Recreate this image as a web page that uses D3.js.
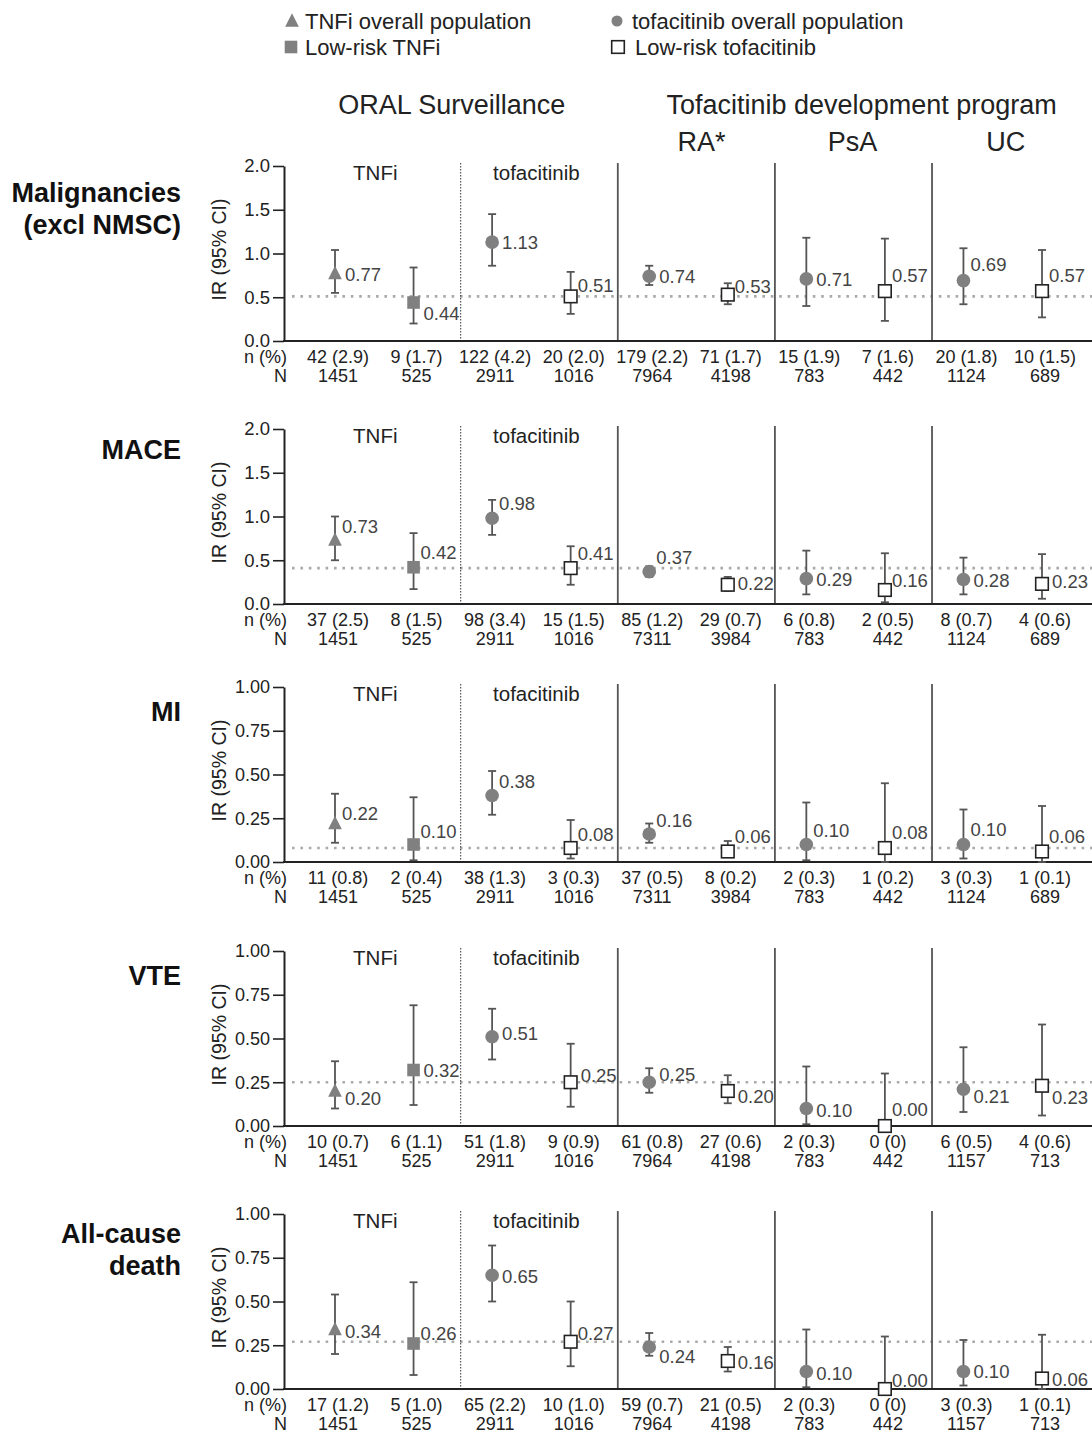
<!DOCTYPE html>
<html><head><meta charset="utf-8">
<script src="https://cdn.jsdelivr.net/npm/d3@7"></script>
<style>
body{margin:0;background:#fff}
svg{display:block}
text{font-family:"Liberation Sans",Arial,sans-serif}
</style>
</head><body>
<svg id="chart" width="1092" height="1434"></svg>
<script>
// ---------------- DATA ----------------
const groups = ["TNFi overall", "Low-risk TNFi", "Tofacitinib overall", "Low-risk tofacitinib",
  "RA overall", "RA low-risk", "PsA overall", "PsA low-risk", "UC overall", "UC low-risk"];
const markerTypes = ["triangle", "square", "circle", "openSquare", "circle", "openSquare",
  "circle", "openSquare", "circle", "openSquare"];
const outcomeTitles = [["Malignancies", "(excl NMSC)"], ["MACE"], ["MI"], ["VTE"], ["All-cause", "death"]];
const yMaxes = [2, 2, 1, 1, 1];
const ticksWide = [0, 0.5, 1, 1.5, 2];
const ticksWideLabels = ["0.0", "0.5", "1.0", "1.5", "2.0"];
const ticksNarrow = [0, 0.25, 0.5, 0.75, 1];
const ticksNarrowLabels = ["0.00", "0.25", "0.50", "0.75", "1.00"];

const malignIR = [0.77, 0.44, 1.13, 0.51, 0.74, 0.53, 0.71, 0.57, 0.69, 0.57];
const malignLo = [0.55, 0.20, 0.86, 0.31, 0.64, 0.42, 0.40, 0.23, 0.42, 0.27];
const malignHi = [1.04, 0.84, 1.45, 0.79, 0.86, 0.66, 1.18, 1.17, 1.06, 1.04];
const malignN = ["42 (2.9)", "9 (1.7)", "122 (4.2)", "20 (2.0)", "179 (2.2)", "71 (1.7)", "15 (1.9)", "7 (1.6)", "20 (1.8)", "10 (1.5)"];
const malignTotal = [1451, 525, 2911, 1016, 7964, 4198, 783, 442, 1124, 689];

const maceIR = [0.73, 0.42, 0.98, 0.41, 0.37, 0.22, 0.29, 0.16, 0.28, 0.23];
const maceLo = [0.50, 0.17, 0.79, 0.22, 0.31, 0.15, 0.11, 0.02, 0.11, 0.06];
const maceHi = [1.00, 0.81, 1.19, 0.66, 0.43, 0.31, 0.61, 0.58, 0.53, 0.57];
const maceN = ["37 (2.5)", "8 (1.5)", "98 (3.4)", "15 (1.5)", "85 (1.2)", "29 (0.7)", "6 (0.8)", "2 (0.5)", "8 (0.7)", "4 (0.6)"];
const maceTotal = [1451, 525, 2911, 1016, 7311, 3984, 783, 442, 1124, 689];

const miIR = [0.22, 0.10, 0.38, 0.08, 0.16, 0.06, 0.10, 0.08, 0.10, 0.06];
const miLo = [0.11, 0.01, 0.27, 0.02, 0.11, 0.03, 0.01, 0.00, 0.02, 0.00];
const miHi = [0.39, 0.37, 0.52, 0.24, 0.22, 0.12, 0.34, 0.45, 0.30, 0.32];
const miN = ["11 (0.8)", "2 (0.4)", "38 (1.3)", "3 (0.3)", "37 (0.5)", "8 (0.2)", "2 (0.3)", "1 (0.2)", "3 (0.3)", "1 (0.1)"];
const miTotal = [1451, 525, 2911, 1016, 7311, 3984, 783, 442, 1124, 689];

const vteIR = [0.20, 0.32, 0.51, 0.25, 0.25, 0.20, 0.10, 0.00, 0.21, 0.23];
const vteLo = [0.10, 0.12, 0.38, 0.11, 0.19, 0.13, 0.01, 0.00, 0.08, 0.06];
const vteHi = [0.37, 0.69, 0.67, 0.47, 0.33, 0.29, 0.34, 0.30, 0.45, 0.58];
const vteN = ["10 (0.7)", "6 (1.1)", "51 (1.8)", "9 (0.9)", "61 (0.8)", "27 (0.6)", "2 (0.3)", "0 (0)", "6 (0.5)", "4 (0.6)"];
const vteTotal = [1451, 525, 2911, 1016, 7964, 4198, 783, 442, 1157, 713];

const deathIR = [0.34, 0.26, 0.65, 0.27, 0.24, 0.16, 0.10, 0.00, 0.10, 0.06];
const deathLo = [0.20, 0.08, 0.50, 0.13, 0.19, 0.10, 0.01, 0.00, 0.02, 0.00];
const deathHi = [0.54, 0.61, 0.82, 0.50, 0.32, 0.24, 0.34, 0.30, 0.28, 0.31];
const deathN = ["17 (1.2)", "5 (1.0)", "65 (2.2)", "10 (1.0)", "59 (0.7)", "21 (0.5)", "2 (0.3)", "0 (0)", "3 (0.3)", "1 (0.1)"];
const deathTotal = [1451, 525, 2911, 1016, 7964, 4198, 783, 442, 1157, 713];

const legendLabels = ["TNFi overall population", "Low-risk TNFi", "tofacitinib overall population", "Low-risk tofacitinib"];

// ---------------- LAYOUT ----------------
const panelsData = [
  {ir: malignIR, lo: malignLo, hi: malignHi, n: malignN, N: malignTotal},
  {ir: maceIR, lo: maceLo, hi: maceHi, n: maceN, N: maceTotal},
  {ir: miIR, lo: miLo, hi: miHi, n: miN, N: miTotal},
  {ir: vteIR, lo: vteLo, hi: vteHi, n: vteN, N: vteTotal},
  {ir: deathIR, lo: deathLo, hi: deathHi, n: deathN, N: deathTotal}
];
const panelTops = [166, 429, 687, 951, 1214];
const panelH = 175;
const labelDy = [
  [0, 10, 0, -11, 0, -9, 0, -16, -17, -16],
  [-14, -15, -15, -15, -15, -2, 0, -10, 0, -3],
  [-11, -14, -15, -14, -14, -16, -15, -16, -16, -16],
  [7, 0, -4, -7, -8, 5, 1, -17, 7, 11],
  [1, -11, 1, -9, 9, 1, 1, -9, -1, 0]
];

const GRAY = "#808080", BAR = "#555", AX = "#222";
const svg = d3.select("#chart");
const x = d3.scaleLinear().domain([0, 9]).range([335, 1042]);
const axisX0 = 284, axisX1 = 1092;

function drawMarker(g, type, cx, cy, s) {
  s = s || 1;
  if (type === "triangle") {
    const h = 12 * s, w = 13 * s;
    g.append("path").attr("d", `M${cx},${cy - h * 0.62}L${cx + w / 2},${cy + h * 0.45}L${cx - w / 2},${cy + h * 0.45}Z`).attr("fill", GRAY);
  } else if (type === "square") {
    const a = 12 * s;
    g.append("rect").attr("x", cx - a / 2).attr("y", cy - a / 2).attr("width", a).attr("height", a).attr("fill", GRAY);
  } else if (type === "circle") {
    g.append("circle").attr("cx", cx).attr("cy", cy).attr("r", 6.5 * s).attr("fill", GRAY);
  } else {
    const a = 12 * s;
    g.append("rect").attr("x", cx - a / 2).attr("y", cy - a / 2).attr("width", a).attr("height", a)
      .attr("fill", "#fff").attr("stroke", "#222").attr("stroke-width", 1.6);
  }
}

// legend
const leg = svg.append("g");
const legMarkerPos = [[292, 21], [291, 47], [617, 21], [618, 47]];
const legTextX = [305, 305, 632, 635];
const legTypes = ["triangle", "square", "circle", "openSquare"];
legTypes.forEach((t, i) => {
  const [lx, ly] = legMarkerPos[i];
  drawMarker(leg, t, lx, ly, t === "circle" ? 0.85 : 1.05);
  leg.append("text").attr("x", legTextX[i]).attr("y", ly + 8)
    .attr("font-size", 22).attr("fill", "#222").text(legendLabels[i]);
});

// headers
const hdr = svg.append("g").attr("font-size", 27).attr("fill", "#222").attr("text-anchor", "middle");
hdr.append("text").attr("x", (x(0) + x(3)) / 2 - 1).attr("y", 114).text("ORAL Surveillance");
hdr.append("text").attr("x", (x(4) + x(9)) / 2 + 16).attr("y", 114).text("Tofacitinib development program");
hdr.append("text").attr("x", (x(4) + x(5)) / 2 + 13).attr("y", 151).text("RA*");
hdr.append("text").attr("x", (x(6) + x(7)) / 2 + 7).attr("y", 151).text("PsA");
hdr.append("text").attr("x", (x(8) + x(9)) / 2 + 3).attr("y", 151).text("UC");

const fmt = d3.format(".2f");

panelsData.forEach((pd, p) => {
  const top = panelTops[p];
  const yMax = yMaxes[p];
  const y = d3.scaleLinear().domain([0, yMax]).range([top + panelH, top]);
  const g = svg.append("g");
  const zeroY = y(0);

  // title
  const title = g.append("text").attr("text-anchor", "end").attr("font-size", 27).attr("font-weight", "bold").attr("fill", "#111");
  const t0 = outcomeTitles[p].length > 1 ? (p === 0 ? 36 : 29) : (p === 1 ? 30 : 34);
  outcomeTitles[p].forEach((line, li) => {
    title.append("tspan").attr("x", 181).attr("y", top + t0 + li * 32).text(line);
  });

  // y axis label
  g.append("text").attr("transform", `translate(226,${(y(0) + y(yMax)) / 2 - 4}) rotate(-90)`)
    .attr("text-anchor", "middle").attr("font-size", 19.5).attr("fill", "#222").text("IR (95% CI)");

  // reference line (low-risk tofacitinib ORAL Surveillance)
  g.append("line").attr("x1", axisX0 + 8).attr("x2", axisX1).attr("y1", y(pd.ir[3])).attr("y2", y(pd.ir[3]))
    .attr("stroke", "#aaa").attr("stroke-width", 2.6).attr("stroke-dasharray", "2.6,5.8");

  // separators
  const sepTop = y(yMax) - 3;
  g.append("line").attr("x1", x(1.6)).attr("x2", x(1.6)).attr("y1", sepTop).attr("y2", zeroY)
    .attr("stroke", "#333").attr("stroke-width", 1).attr("stroke-dasharray", "1.5,1.5");
  [3.6, 5.6, 7.6].forEach(v => {
    g.append("line").attr("x1", x(v)).attr("x2", x(v)).attr("y1", sepTop).attr("y2", zeroY)
      .attr("stroke", "#555").attr("stroke-width", 1.8);
  });

  // axes
  const yAxis = d3.axisLeft(y)
    .tickValues(yMax === 2 ? ticksWide : ticksNarrow)
    .tickFormat((d, i) => (yMax === 2 ? ticksWideLabels : ticksNarrowLabels)[i])
    .tickSize(11).tickSizeOuter(0).tickPadding(3);
  const ya = g.append("g").attr("transform", `translate(${axisX0},0)`).call(yAxis);
  ya.select(".domain").attr("stroke", AX).attr("stroke-width", 2);
  ya.selectAll(".tick line").attr("stroke", AX).attr("stroke-width", 1.6);
  ya.selectAll(".tick text").attr("font-size", yMax === 2 ? 18.5 : 18).attr("fill", "#222")
    .attr("font-family", "Liberation Sans, Arial, sans-serif");
  g.append("line").attr("x1", axisX0 - 1).attr("x2", axisX1).attr("y1", zeroY).attr("y2", zeroY)
    .attr("stroke", AX).attr("stroke-width", 2);

  // "TNFi" / "tofacitinib" labels
  g.append("text").attr("x", (x(0) + x(1)) / 2 + 1).attr("y", top + 14).attr("text-anchor", "middle")
    .attr("font-size", 20.5).attr("fill", "#222").text("TNFi");
  g.append("text").attr("x", (x(2) + x(3)) / 2 + 5).attr("y", top + 14).attr("text-anchor", "middle")
    .attr("font-size", 20.5).attr("fill", "#222").text("tofacitinib");

  // error bars
  groups.forEach((grp, i) => {
    const cx = x(i);
    const eb = g.append("g").attr("stroke", BAR).attr("stroke-width", 1.8);
    eb.append("line").attr("x1", cx).attr("x2", cx).attr("y1", y(pd.lo[i])).attr("y2", y(pd.hi[i]));
    eb.append("line").attr("x1", cx - 4).attr("x2", cx + 4).attr("y1", y(pd.hi[i])).attr("y2", y(pd.hi[i]));
    eb.append("line").attr("x1", cx - 4).attr("x2", cx + 4).attr("y1", y(pd.lo[i])).attr("y2", y(pd.lo[i]));
  });
  // markers & labels
  groups.forEach((grp, i) => {
    const cx = x(i), cy = y(pd.ir[i]);
    drawMarker(g, markerTypes[i], cx, cy, 1.05);
    const dy = labelDy[p][i];
    g.append("text").attr("x", cx + (dy < -8 ? 7 : 10)).attr("y", cy + dy + 7)
      .attr("font-size", 18.5).attr("fill", "#444").text(fmt(pd.ir[i]));
  });

  // n(%) and N rows
  g.append("text").attr("x", 287).attr("y", zeroY + 22).attr("text-anchor", "end").attr("font-size", 18).attr("fill", "#222").text("n (%)");
  g.append("text").attr("x", 287).attr("y", zeroY + 41).attr("text-anchor", "end").attr("font-size", 18).attr("fill", "#222").text("N");
  groups.forEach((grp, i) => {
    g.append("text").attr("x", x(i) + 3).attr("y", zeroY + 22).attr("text-anchor", "middle")
      .attr("font-size", 18).attr("fill", "#222").text(pd.n[i]);
    g.append("text").attr("x", x(i) + 3).attr("y", zeroY + 41).attr("text-anchor", "middle")
      .attr("font-size", 18).attr("fill", "#222").text(pd.N[i]);
  });
});
</script>
</body></html>
